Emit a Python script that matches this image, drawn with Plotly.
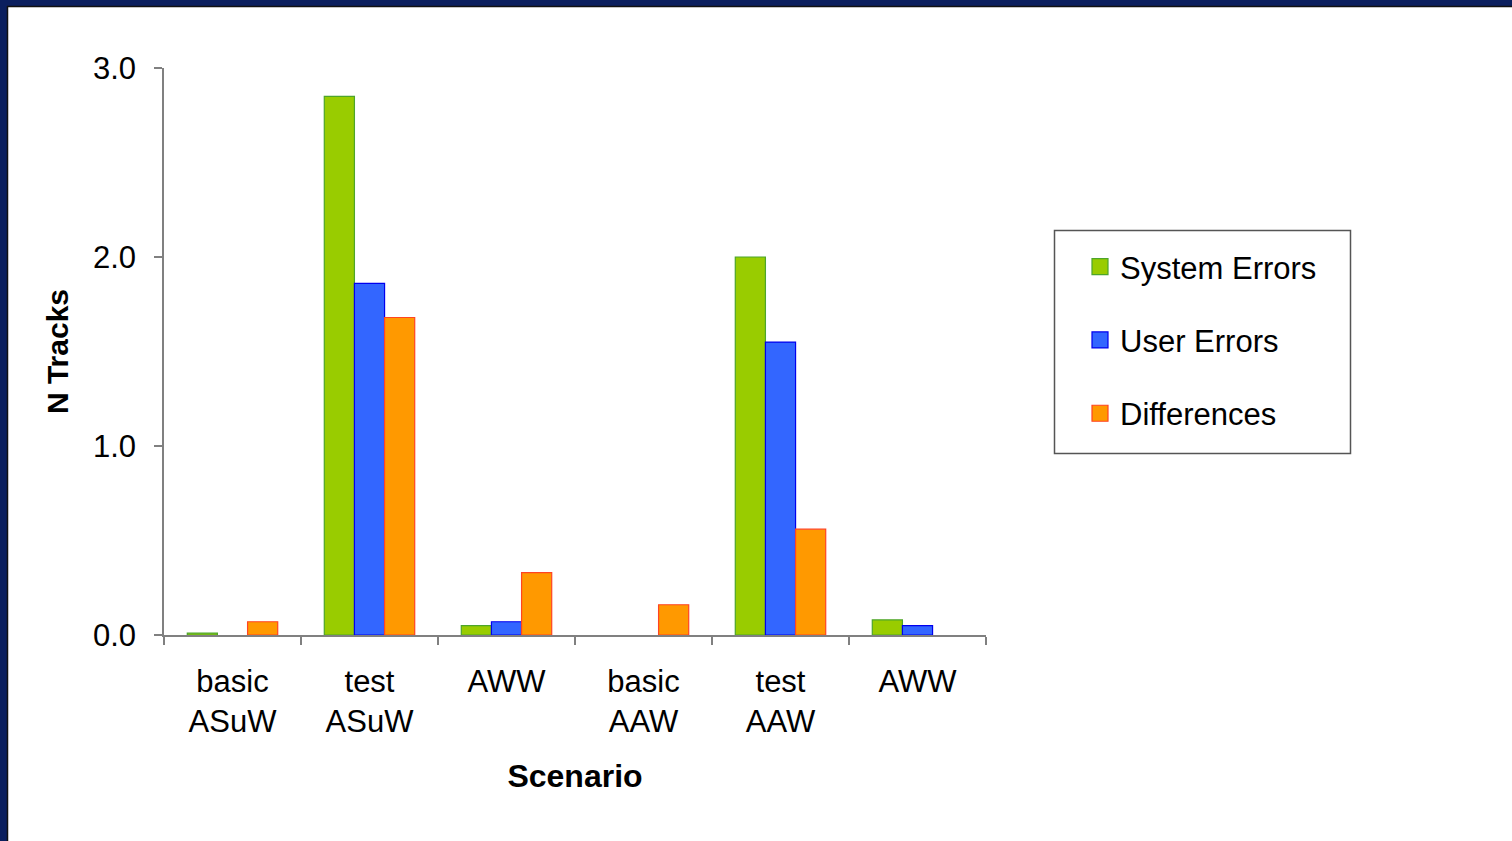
import plotly.graph_objects as go

# Scenario categories (two-line labels) and the three measured series
scenarios = ["basic<br>ASuW", "test<br>ASuW", "AWW", "basic<br>AAW", "test<br>AAW", "AWW\u200b"]
system_errors = [0.01, 2.85, 0.05, 0.0, 2.0, 0.08]
user_errors = [0.0, 1.86, 0.07, 0.0, 1.55, 0.05]
differences = [0.07, 1.68, 0.33, 0.16, 0.56, 0.0]

series = [
    ("System Errors", system_errors, "#99CC00", "#4DA52A"),
    ("User Errors", user_errors, "#3366FF", "#0000EE"),
    ("Differences", differences, "#FF9900", "#FF4422"),
]

FONT = "Liberation Sans, Arial, sans-serif"
W, H = 1512, 841
L, R, T, B = 164, 526, 68, 206
pw, ph = W - L - R, H - T - B


def px_x(p):
    return (p - L) / pw


def px_y(p):
    return (H - B - p) / ph


fig = go.Figure()
for name, vals, fill, edge in series:
    # empty bars get no outline so they stay invisible
    widths = [0 if v == 0 else 1.2 for v in vals]
    fig.add_trace(go.Bar(
        x=scenarios, y=vals, name=name, showlegend=False,
        marker=dict(color=fill, line=dict(color=edge, width=widths)),
    ))

# legend entries with larger square swatches
for i, (name, vals, fill, edge) in enumerate(series):
    fig.add_trace(go.Scatter(
        x=[None], y=[None], mode="markers", name=name, legendgroup=f"g{i}",
        marker=dict(symbol="square", size=18, color=fill, line=dict(color=edge, width=1.2)),
    ))

navy = "#0B1F5E"
shapes = [
    # dark navy frame along the top and left edges
    dict(type="rect", xref="paper", yref="paper", x0=px_x(0), x1=px_x(W), y0=px_y(0), y1=px_y(6),
         fillcolor=navy, line=dict(width=0), layer="above"),
    dict(type="rect", xref="paper", yref="paper", x0=px_x(0), x1=px_x(7), y0=px_y(0), y1=px_y(H),
         fillcolor=navy, line=dict(width=0), layer="above"),
    dict(type="line", xref="paper", yref="paper", x0=px_x(7), x1=px_x(W), y0=px_y(6.5), y1=px_y(6.5),
         line=dict(color="#111111", width=1.5)),
    dict(type="line", xref="paper", yref="paper", x0=px_x(7.5), x1=px_x(7.5), y0=px_y(6), y1=px_y(H),
         line=dict(color="#111111", width=1.5)),
    # legend frame
    dict(type="rect", xref="paper", yref="paper", x0=px_x(1054.5), x1=px_x(1350.5),
         y0=px_y(453.5), y1=px_y(230.5), line=dict(color="#555555", width=1.5)),
]

fig.update_layout(
    width=W, height=H,
    margin=dict(l=L, r=R, t=T, b=B, pad=0),
    paper_bgcolor="white", plot_bgcolor="white",
    barmode="group", bargap=0.34, bargroupgap=0.0,
    font=dict(family=FONT, size=31, color="black"),
    shapes=shapes,
    legend=dict(
        x=px_x(1080), y=px_y(240), xanchor="left", yanchor="top",
        borderwidth=0, bgcolor="rgba(0,0,0,0)",
        font=dict(family=FONT, size=31, color="black"),
        tracegroupgap=30, traceorder="grouped",
    ),
    xaxis=dict(
        title=dict(text="<b>Scenario</b>", font=dict(size=32), standoff=26),
        showline=True, linecolor="#808080", linewidth=1.5,
        ticks="outside", ticklen=8, tickcolor="#808080", tickwidth=1.5,
        tickson="boundaries", showgrid=False,
        tickfont=dict(size=31), ticklabelstandoff=18,
    ),
    yaxis=dict(
        title=dict(text="<b>N Tracks</b>", font=dict(size=30), standoff=15),
        range=[0, 3.0], tickvals=[0, 1, 2, 3], ticktext=["0.0", "1.0", "2.0", "3.0"],
        showline=True, linecolor="#808080", linewidth=1.5,
        ticks="outside", ticklen=8, tickcolor="#808080", tickwidth=1.5,
        showgrid=False, zeroline=False,
        tickfont=dict(size=31), ticklabelstandoff=12,
    ),
)

fig.write_html("out.html")
